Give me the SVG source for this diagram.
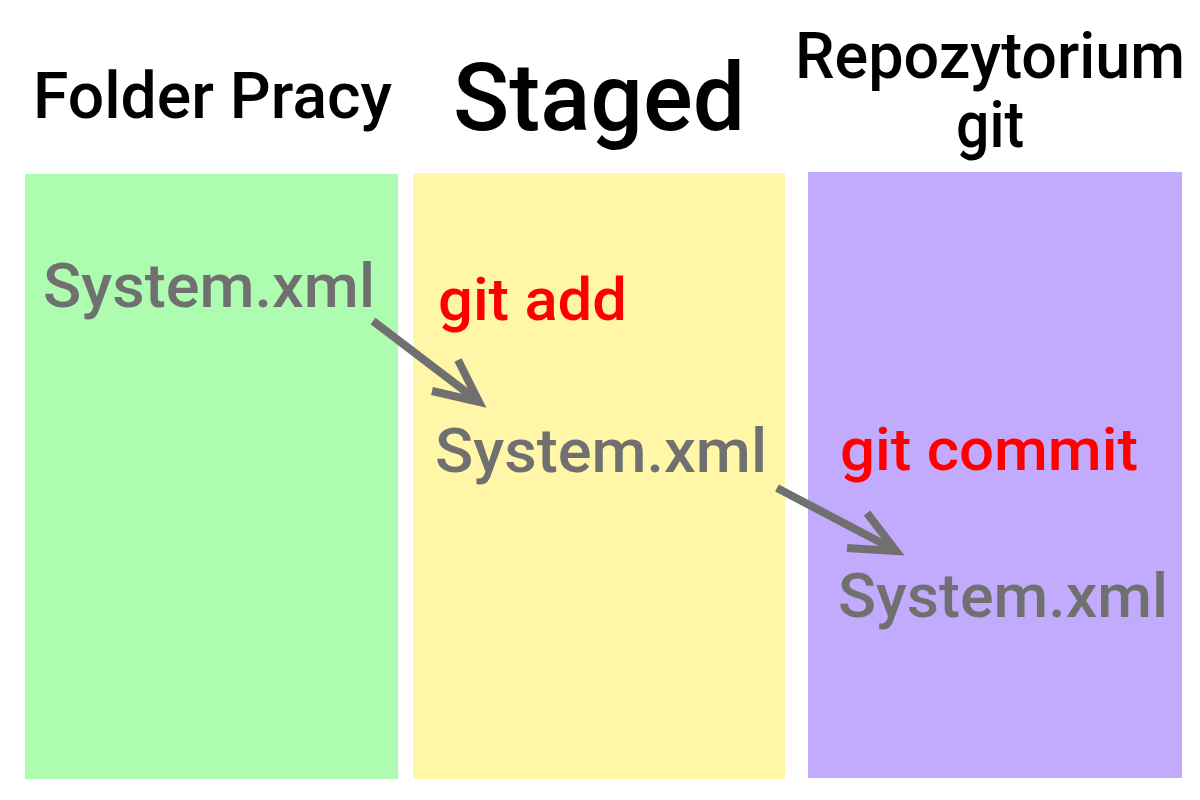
<svg xmlns="http://www.w3.org/2000/svg" width="1200" height="800" viewBox="0 0 1200 800">
<style>
.hdr{font-family:Roboto,"Liberation Sans",sans-serif;font-weight:500;fill:#000;}
.file{font-family:Roboto,"Liberation Sans",sans-serif;font-weight:500;fill:#707070;font-size:62px;}
.cmd{font-family:Roboto,"Liberation Sans",sans-serif;font-weight:500;fill:#ff0000;font-size:60px;}
.arr{stroke:#707070;stroke-width:8;fill:none;stroke-linecap:butt;stroke-linejoin:miter;}
</style>
<rect width="1200" height="800" fill="#ffffff"/>
<g id="folder-pracy">
<rect x="25" y="174" width="373" height="605" fill="#adfcb0"/>
<text class="hdr" x="33" y="118" font-size="64" textLength="359" lengthAdjust="spacingAndGlyphs">Folder Pracy</text>
<text class="file" x="43" y="307" textLength="332" lengthAdjust="spacingAndGlyphs">System.xml</text>
</g>
<g id="staged">
<rect x="413" y="173" width="372" height="606" fill="#fff6a8"/>
<text class="hdr" x="453" y="130" font-size="94" textLength="292" lengthAdjust="spacingAndGlyphs">Staged</text>
<text class="cmd" x="438" y="320" textLength="189" lengthAdjust="spacingAndGlyphs">git add</text>
<text class="file" x="435" y="472" textLength="332" lengthAdjust="spacingAndGlyphs">System.xml</text>
</g>
<g id="repozytorium">
<rect x="808" y="172" width="374" height="606" fill="#c2abfd"/>
<text class="hdr" x="795" y="78" font-size="64" textLength="390" lengthAdjust="spacingAndGlyphs">Repozytorium</text>
<text class="hdr" x="990" y="147" font-size="64" text-anchor="middle" textLength="68" lengthAdjust="spacingAndGlyphs">git</text>
<text class="cmd" x="840" y="470" textLength="298" lengthAdjust="spacingAndGlyphs">git commit</text>
<text class="file" x="838" y="617" textLength="330" lengthAdjust="spacingAndGlyphs">System.xml</text>
</g>
<g id="connectors">
<path class="arr" d="M373,321 L478,401"/>
<path class="arr" d="M458,360 L479,402 L432,391"/>
<path class="arr" d="M777,488 L895,550"/>
<path class="arr" d="M867,513 L896,551 L847,548"/>
</g>
</svg>
